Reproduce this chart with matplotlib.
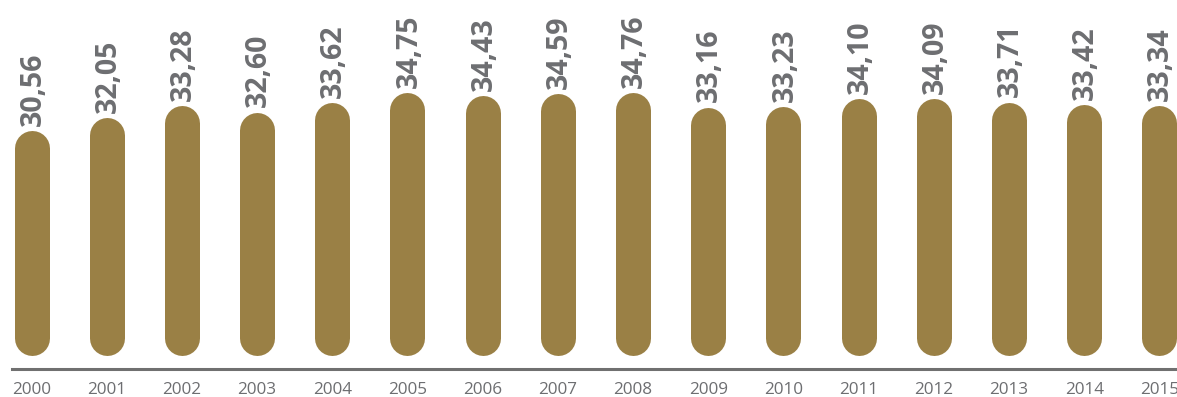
import matplotlib
matplotlib.use("Agg")
import matplotlib.pyplot as plt
from matplotlib import font_manager

years = ["2000", "2001", "2002", "2003", "2004", "2005", "2006", "2007",
         "2008", "2009", "2010", "2011", "2012", "2013", "2014", "2015"]
values = [30.56, 32.05, 33.28, 32.60, 33.62, 34.75, 34.43, 34.59,
          34.76, 33.16, 33.23, 34.10, 34.09, 33.71, 33.42, 33.34]
labels = [f"{v:.2f}".replace(".", ",") for v in values]

BAR_COLOR = "#9a8045"
TEXT_GRAY = "#6d6e71"
AXIS_GRAY = "#707070"
BASE = 10.0

names = {f.name for f in font_manager.fontManager.ttflist}
year_font = "Liberation Sans Narrow" if "Liberation Sans Narrow" in names else "Open Sans"

W, H, DPI = 1177, 397, 100
fig = plt.figure(figsize=(W / DPI, H / DPI), dpi=DPI)
# axes occupy pixel rows 0..369 (bottom edge = axis line)
ax = fig.add_axes([0, (H - 369) / H, 1, 369 / H])

x = list(range(len(years)))
ax.set_xlim(-0.419, 15.233)
ax.set_ylim(6.59, 46.7)

bar_px = 35
lw = bar_px * 72 / DPI
ax.vlines(x, BASE, values, colors=BAR_COLOR, linewidth=lw, capstyle="round")

for xi, v, lab in zip(x, values, labels):
    ax.annotate(lab, (xi, v), xytext=(1, 16), textcoords="offset points",
                rotation=90, ha="center", va="bottom", fontsize=20.5,
                fontweight="bold", family=["Open Sans", "DejaVu Sans"],
                color=TEXT_GRAY)

for s in ["top", "left", "right"]:
    ax.spines[s].set_visible(False)
ax.spines["bottom"].set_color(AXIS_GRAY)
ax.spines["bottom"].set_linewidth(2.2)
ax.spines["bottom"].set_bounds(-0.26, 15.3)
ax.set_yticks([])
ax.set_xticks(x)
ax.set_xticklabels(years, family=[year_font, "DejaVu Sans"], fontsize=12.3,
                   color=TEXT_GRAY)
ax.tick_params(axis="x", length=0, pad=9)

fig.savefig("out.png", dpi=DPI)
